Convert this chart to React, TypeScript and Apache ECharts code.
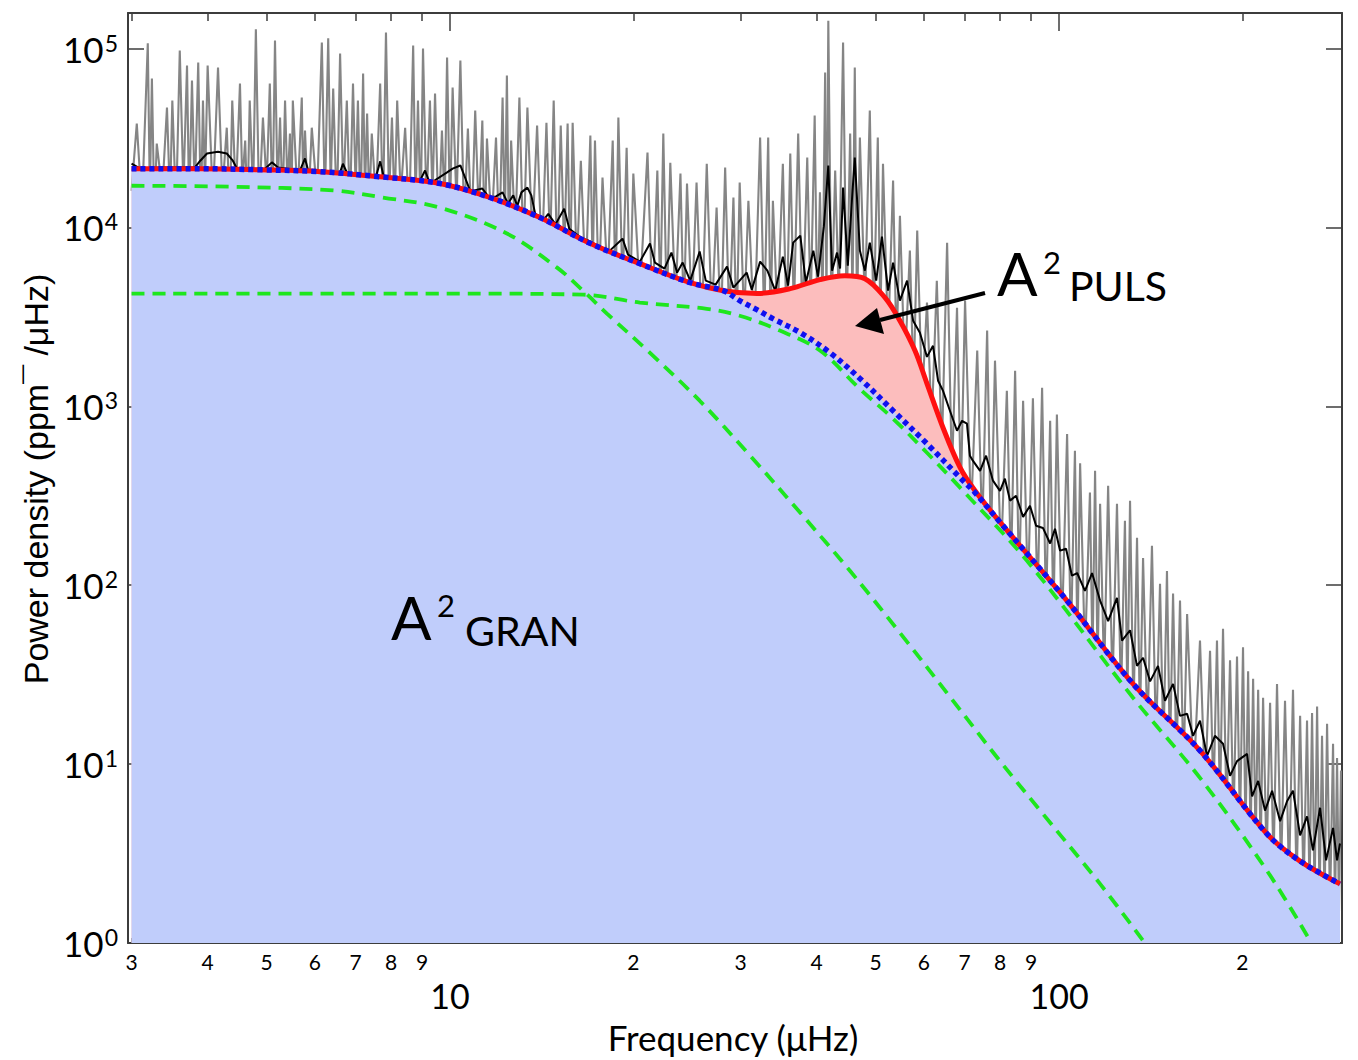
import React, { useEffect, useRef } from "react";
import * as echarts from "echarts";

// ---- axis ranges (real units) ----
const FREQ_MIN = 2.96;
const FREQ_MAX = 291.5;
const POW_MAX = 158000;

// ---- tick labels ----
const minorTickFreqs = [3, 4, 5, 6, 7, 8, 9, 20, 30, 40, 50, 60, 70, 80, 90, 200];
const majorTickFreqs = [10, 100];
const powerTicks = [1, 10, 100, 1000, 10000, 100000];

// ---- total fit (red) ----
const fitFreq = [3.0, 3.89, 4.88, 6.12, 7.67, 9.63, 11.63, 14.05, 16.98, 20.5, 24.8, 28.1, 31.9, 36.2, 40.5, 44.5, 48.0, 51.8, 54.8, 58.0, 60.7, 64.5, 68.8, 72.8, 80.0, 103.1, 132.3, 170.4, 219.6, 248.8, 289.3];
const fitTotal = [21300, 21300, 21000, 20500, 19200, 17600, 14700, 11350, 8150, 6270, 4910, 4430, 4270, 4550, 5110, 5370, 5170, 4050, 3010, 2050, 1340, 759, 454, 337, 225, 81.8, 28.1, 11.9, 4.07, 2.87, 2.14];

// ---- background fit (blue dotted) ----
const bgFreq = [3.0, 3.89, 4.88, 6.12, 7.67, 9.63, 11.63, 14.05, 16.98, 20.5, 24.8, 28.1, 29.9, 31.9, 33.9, 37.6, 42.1, 47.1, 53.4, 60.7, 68.8, 72.8, 80.0, 103.1, 132.3, 170.4, 219.6, 248.8, 289.3];
const bgPower = [21300, 21300, 21000, 20500, 19200, 17600, 14700, 11350, 8150, 6270, 4910, 4430, 3900, 3470, 3090, 2580, 1990, 1430, 945, 618, 399, 329, 225, 81.8, 28.1, 11.9, 4.07, 2.87, 2.14];

// ---- granulation components (green dashed) ----
const gran1Freq = [3.0, 10, 16.54, 20.5, 26.4, 29.9, 34.8, 40.5, 47.1, 53.4, 60.7, 68.8, 88.6, 132.3, 170.4, 219.6, 258.4];
const gran1Power = [4270, 4270, 4210, 3800, 3510, 3210, 2650, 2050, 1250, 853, 550, 351, 137, 23.5, 8.37, 2.53, 1.03];
const gran2Freq = [3.0, 4.35, 6.43, 7.76, 9.63, 12.4, 14.99, 16.54, 18.1, 21.3, 25.7, 31.1, 37.6, 45.4, 54.8, 66.2, 80.0, 94.1, 116.8, 137.4];
const gran2Power = [17100, 16900, 16100, 14700, 12900, 9250, 5960, 4430, 3300, 1990, 1075, 530, 254, 120, 54.2, 23.8, 10.4, 5.27, 2.14, 1.03];

// ---- smoothed spectrum (black) [freq, power] ----
const smoothSpec = [
  [3.0, 22700], [3.1, 21300], [3.34, 21600], [3.81, 21600], [3.89, 23600], [3.99, 25900], [4.16, 26500], [4.3, 25900], [4.4, 23600], [4.47, 21300],
  [4.97, 21300], [5.1, 23100], [5.22, 21600], [5.67, 20800], [5.78, 24300], [5.85, 20800], [6.6, 20300], [6.67, 22700], [6.77, 20300], [7.56, 19200],
  [7.68, 23400], [7.79, 19000], [8.93, 18300], [9.1, 20800], [9.27, 17600], [9.89, 20300], [10.1, 21300], [10.4, 22200], [10.8, 15900], [11.3, 16500],
  [11.6, 14700], [11.9, 14900], [12.2, 15700], [12.45, 13600], [12.7, 15100], [12.9, 13200], [13.1, 15700], [13.4, 16700], [13.6, 15100], [13.8, 11900],
  [14.3, 11200], [14.5, 11900], [14.9, 10400], [15.4, 12700], [15.7, 9840], [16.4, 8770], [17.0, 8340], [17.6, 7810], [18.3, 7420], [19.2, 8650],
  [19.6, 7050], [20.5, 6440], [21.3, 8120], [21.7, 6360], [22.5, 5890], [23.1, 7230], [23.6, 5590], [24.1, 6360], [24.8, 5040], [25.7, 7330],
  [26.3, 5040], [27.3, 4790], [28.5, 6040], [29.2, 4610], [30.7, 5590], [31.3, 4490], [32.3, 6440], [33.2, 5730], [34.2, 4430], [35.2, 6870],
  [35.9, 4730], [36.6, 8220], [37.6, 9000], [38.4, 4910], [39.5, 7420], [40.2, 5310], [41.1, 10100], [41.8, 22200], [42.4, 5730], [43.2, 7230],
  [43.7, 5890], [44.2, 16700], [45.0, 6110], [45.7, 14100], [46.2, 24600], [47.1, 7420], [48.0, 5730], [48.9, 8220], [50.1, 5040], [51.2, 8890],
  [52.4, 4430], [53.4, 6360], [54.8, 3900], [56.3, 5040], [57.6, 3010], [59.1, 2580], [60.7, 1890], [62.1, 2180], [63.3, 1390], [64.5, 1220],
  [66.2, 945], [68.0, 730], [69.3, 830], [70.6, 800], [71.4, 530], [72.2, 497], [74.2, 436], [75.9, 530], [77.9, 384], [80.0, 337],
  [81.5, 394], [83.1, 297], [85.0, 316], [87.3, 241], [89.6, 278], [91.7, 215], [94.1, 209], [96.7, 171], [98.5, 207], [100.4, 156],
  [102.7, 160], [105.0, 113], [107.1, 117], [110.3, 93], [113.3, 117], [116.8, 82], [120.4, 63], [124.5, 85], [126.9, 49], [130.8, 56],
  [134.3, 35.4], [137.4, 39.3], [141.1, 29], [145.4, 35.4], [149.3, 22.6], [153.9, 28.1], [158.0, 18.6], [162.3, 19.1], [166.0, 14.4], [170.4, 17.5],
  [175.0, 11.1], [180.3, 14.4], [185.9, 13.0], [190.9, 8.6], [196.0, 10.4], [203.6, 11.4], [207.5, 6.6], [212.3, 8.05], [217.9, 5.5], [223.8, 7.1],
  [230.7, 4.8], [236.8, 6.2], [242.2, 7.1], [248.8, 4.0], [255.4, 5.1], [261.2, 3.3], [268.3, 5.7], [274.5, 2.9], [281.8, 4.4], [286.1, 2.9], [289.3, 3.6]
];

// ---- raw spectrum (grey) [freq, power] ----
const rawSpec = [
  [3.0, 16000], [3.06, 38100], [3.12, 13000], [3.19, 107000], [3.215, 15000], [3.24, 67900], [3.27, 12000], [3.30, 29400], [3.37, 16000], [3.43, 46800],
  [3.47, 14000], [3.50, 51200], [3.55, 12500], [3.60, 97500], [3.65, 16500], [3.70, 80400], [3.73, 13000], [3.77, 66200], [3.81, 15000], [3.86, 83500],
  [3.90, 12000], [3.93, 51200], [3.96, 17000], [4.00, 80400], [4.08, 14000], [4.16, 78300], [4.23, 16000], [4.30, 36100], [4.35, 12000], [4.39, 51200],
  [4.45, 15000], [4.52, 63700], [4.56, 17500], [4.61, 30600], [4.65, 12000], [4.69, 51200], [4.75, 15000], [4.80, 128000], [4.86, 13000], [4.93, 41100],
  [5.00, 17000], [5.06, 63700], [5.11, 12000], [5.16, 111000], [5.21, 15500], [5.26, 41100], [5.31, 13000], [5.36, 51200], [5.41, 16500], [5.46, 33500],
  [5.49, 12000], [5.52, 51200], [5.62, 14500], [5.71, 53200], [5.74, 17500], [5.78, 34800], [5.85, 12500], [5.93, 36100], [6.05, 15000], [6.16, 108000],
  [6.23, 13500], [6.31, 114000], [6.37, 16500], [6.43, 59700], [6.52, 12000], [6.60, 93800], [6.68, 15500], [6.77, 51200], [6.85, 12500], [6.93, 63700],
  [7.00, 16500], [7.06, 51200], [7.13, 11500], [7.20, 72400], [7.25, 15500], [7.31, 43300], [7.37, 13000], [7.44, 33500], [7.56, 14000], [7.68, 63700],
  [7.76, 11500], [7.85, 123000], [7.94, 14500], [8.03, 41100], [8.11, 12500], [8.19, 51200], [8.30, 15000], [8.44, 36100], [8.57, 11000], [8.70, 104000],
  [8.78, 14000], [8.86, 51200], [8.95, 11500], [9.03, 100000], [9.15, 13000], [9.27, 51200], [9.36, 14500], [9.45, 56000], [9.58, 10500], [9.70, 34800],
  [9.80, 13000], [9.89, 89100], [10.0, 12000], [10.1, 60500], [10.25, 13500], [10.4, 85700], [10.55, 10500], [10.7, 35700], [10.85, 9500], [11.0, 45000],
  [11.15, 11500], [11.3, 39600], [11.4, 8500], [11.5, 31400], [11.7, 10000], [11.9, 31800], [12.05, 8000], [12.2, 53200], [12.3, 9500], [12.4, 70600],
  [12.5, 7500], [12.6, 30600], [12.8, 9000], [13.0, 53200], [13.2, 7000], [13.4, 46800], [13.65, 8500], [13.9, 37100], [14.15, 6500], [14.4, 38500],
  [14.6, 7500], [14.8, 51200], [15.0, 5800], [15.2, 37100], [15.4, 7000], [15.6, 38100], [15.75, 5200], [15.9, 38500], [16.15, 6000], [16.4, 23600],
  [16.7, 4800], [17.0, 32600], [17.15, 5600], [17.3, 30600], [17.55, 4300], [17.8, 19000], [18.15, 5000], [18.5, 30600], [18.7, 4000], [18.9, 41100],
  [19.2, 4600], [19.5, 27900], [19.75, 3700], [20.0, 20000], [20.5, 4200], [21.1, 26200], [21.5, 3500], [21.9, 20800], [22.15, 4000], [22.4, 33500],
  [22.7, 3300], [23.0, 23000], [23.45, 3700], [23.9, 20000], [24.2, 3000], [24.5, 17600], [24.95, 3300], [25.4, 17800], [25.9, 2800], [26.4, 22700],
  [26.9, 3100], [27.4, 12900], [27.85, 2600], [28.3, 21600], [28.75, 2900], [29.2, 14700], [29.55, 2500], [29.9, 17800], [30.4, 3000], [30.9, 14100],
  [31.6, 2500], [32.3, 31800], [32.8, 2900], [33.3, 31800], [33.6, 2600], [33.9, 14100], [34.5, 3100], [35.2, 22700], [35.7, 2700], [36.2, 25900],
  [36.7, 3300], [37.3, 33500], [37.9, 2900], [38.6, 24600], [39.1, 3500], [39.7, 42200], [40.1, 3000], [40.5, 15700], [40.9, 3800], [41.3, 73500],
  [41.5, 3500], [41.8, 143000], [42.3, 3200], [42.9, 20800], [43.5, 3900], [44.2, 108000], [44.8, 3300], [45.4, 33500], [45.8, 3800], [46.2, 78300],
  [46.6, 3100], [47.1, 31800], [48.0, 3600], [48.9, 45000], [49.6, 2800], [50.4, 31800], [50.9, 2900], [51.4, 22700], [52.4, 2300], [53.4, 18300],
  [54.1, 2000], [54.8, 11600], [55.8, 1600], [56.9, 7420], [57.7, 1300], [58.5, 9600], [59.6, 1100], [60.7, 3800], [61.8, 800], [63.0, 5040],
  [64.2, 560], [65.5, 8200], [66.7, 420], [68.0, 3560], [69.0, 330], [70.1, 3900], [71.7, 250], [73.4, 2050], [74.8, 200], [76.2, 2650],
  [77.3, 170], [78.5, 1800], [80.3, 140], [82.1, 1220], [83.4, 120], [84.7, 1580], [86.0, 100], [87.3, 1075], [88.9, 90], [90.6, 1110],
  [92.2, 80], [93.8, 1270], [95.2, 70], [96.7, 830], [97.9, 62], [99.2, 900], [101.1, 55], [103.1, 700], [104.6, 48], [106.2, 565],
  [107.2, 45], [108.3, 480], [110.3, 40], [112.4, 330], [113.5, 38], [114.6, 436], [115.7, 34], [116.8, 285], [118.6, 31], [120.4, 360],
  [122.4, 27], [124.5, 285], [126.4, 23], [128.3, 229], [129.5, 22], [130.8, 297], [132.5, 19], [134.3, 184], [135.8, 17], [137.4, 142],
  [139.7, 15], [142.1, 166], [144.3, 13], [146.5, 102], [148.4, 12], [150.4, 120], [152.1, 11], [153.9, 90], [155.9, 10], [158.0, 82],
  [160.1, 9], [162.3, 69], [166.3, 8], [170.4, 49], [173.7, 7], [177.0, 43], [179.3, 6.3], [181.7, 49], [183.8, 5.8], [185.9, 57],
  [188.4, 5.2], [190.9, 38], [193.4, 4.8], [196.0, 40], [198.2, 4.4], [200.5, 45], [202.4, 4.0], [204.4, 33], [206.3, 3.7], [208.3, 30],
  [210.3, 3.4], [212.3, 26], [214.3, 3.1], [216.3, 23.5], [219.2, 2.9], [222.1, 22], [225.0, 2.7], [228.0, 28], [231.5, 2.5], [235.0, 22.6],
  [238.6, 2.3], [242.2, 26], [245.5, 2.1], [248.8, 18.6], [252.1, 2.0], [255.4, 17.5], [257.8, 1.9], [260.3, 19.3], [262.8, 1.8], [265.3, 21],
  [267.8, 1.7], [270.3, 14.4], [272.9, 1.65], [275.5, 16.8], [278.6, 1.6], [281.8, 13], [283.9, 1.55], [286.1, 10.8], [288.2, 1.5], [290.4, 9.2]
];

const L = Math.log10;
const pairs = (fs: number[], ps: number[]) => fs.map((f, i) => [L(f), L(ps[i])]);
const logPairs = (arr: number[][]) => arr.map(([f, p]) => [L(f), L(p)]);

const NUM_FONT = "Lato";
const AXIS_COLOR = "#3c3c3c";
const GREEN = "#1ee61e";

export default function App() {
  const ref = useRef<HTMLDivElement>(null);

  useEffect(() => {
    if (!ref.current) return;
    const chart = echarts.init(ref.current, null, { renderer: "svg" });
    const xMin = L(FREQ_MIN);
    const xMax = L(FREQ_MAX);
    const yMax = L(POW_MAX);
    const allXTicks = [...minorTickFreqs, ...majorTickFreqs].sort((a, b) => a - b).map(L);

    const baseX = {
      type: "value",
      min: xMin,
      max: xMax,
      splitLine: { show: false },
    };

    const txt = (text: string, x: number, y: number, fontSize: number) => ({
      type: "text",
      z: 100,
      x,
      y,
      style: { text, fontSize, fontFamily: NUM_FONT, fill: "#000", align: "left", verticalAlign: "middle" },
    });

    const option: any = {
      animation: false,
      backgroundColor: "#ffffff",
      grid: { left: 128, right: 16, top: 13, bottom: 117 },
      xAxis: [
        {
          ...baseX,
          position: "bottom",
          axisLine: { show: true, onZero: false, lineStyle: { color: AXIS_COLOR, width: 2 } },
          axisTick: { show: true, inside: true, length: 5, customValues: allXTicks, lineStyle: { color: AXIS_COLOR, width: 1.5 } },
          axisLabel: {
            show: true,
            customValues: minorTickFreqs.map(L),
            formatter: (v: number) => String(Math.round(Math.pow(10, v))).charAt(0),
            fontFamily: NUM_FONT,
            fontSize: 21,
            color: "#000",
            margin: 8,
          },
        },
        {
          ...baseX,
          position: "bottom",
          axisLine: { show: false, onZero: false },
          axisTick: { show: false },
          axisLabel: {
            show: true,
            customValues: majorTickFreqs.map(L),
            formatter: (v: number) => String(Math.round(Math.pow(10, v))),
            fontFamily: NUM_FONT,
            fontSize: 34,
            color: "#000",
            margin: 35,
          },
        },
        {
          ...baseX,
          position: "top",
          axisLine: { show: true, onZero: false, lineStyle: { color: AXIS_COLOR, width: 2 } },
          axisTick: { show: true, inside: true, length: 8, customValues: minorTickFreqs.map(L), lineStyle: { color: AXIS_COLOR, width: 1.5 } },
          axisLabel: { show: false },
        },
        {
          ...baseX,
          position: "top",
          axisLine: { show: false, onZero: false },
          axisTick: { show: true, inside: true, length: 18, customValues: majorTickFreqs.map(L), lineStyle: { color: AXIS_COLOR, width: 1.5 } },
          axisLabel: { show: false },
        },
      ],
      yAxis: [
        {
          type: "value",
          position: "left",
          min: 0,
          max: yMax,
          splitLine: { show: false },
          axisLine: { show: true, onZero: false, lineStyle: { color: AXIS_COLOR, width: 2 } },
          axisTick: { show: true, inside: true, length: 16, customValues: powerTicks.map(L), lineStyle: { color: AXIS_COLOR, width: 1.5 } },
          axisLabel: {
            show: true,
            customValues: powerTicks.map(L),
            formatter: (v: number) => `{b|10}{s|${Math.round(v)}}`,
            margin: 10,
            rich: {
              b: { fontFamily: NUM_FONT, fontSize: 35, color: "#000" },
              s: { fontFamily: NUM_FONT, fontSize: 23, color: "#000", verticalAlign: "top", padding: [0, 0, 0, 1] },
            },
          },
        },
        {
          type: "value",
          position: "right",
          min: 0,
          max: yMax,
          splitLine: { show: false },
          axisLine: { show: true, onZero: false, lineStyle: { color: AXIS_COLOR, width: 2 } },
          axisTick: { show: true, inside: true, length: 16, customValues: powerTicks.map(L), lineStyle: { color: AXIS_COLOR, width: 1.5 } },
          axisLabel: { show: false },
        },
      ],
      series: [
        {
          name: "raw",
          type: "line",
          z: 1,
          data: logPairs(rawSpec),
          showSymbol: false,
          symbol: "none",
          silent: true,
          lineStyle: { color: "#858585", width: 2.1 },
        },
        {
          name: "smoothed",
          type: "line",
          z: 1,
          data: logPairs(smoothSpec),
          showSymbol: false,
          symbol: "none",
          silent: true,
          lineStyle: { color: "#000000", width: 2 },
        },
        {
          name: "puls-area",
          type: "line",
          z: 2,
          data: pairs(fitFreq, fitTotal),
          smooth: 0.35,
          showSymbol: false,
          symbol: "none",
          silent: true,
          lineStyle: { width: 0, opacity: 0 },
          areaStyle: { color: "#fcbdbd", opacity: 1, origin: "start" },
        },
        {
          name: "gran-area",
          type: "line",
          z: 3,
          data: pairs(bgFreq, bgPower),
          smooth: 0.35,
          showSymbol: false,
          symbol: "none",
          silent: true,
          lineStyle: { width: 0, opacity: 0 },
          areaStyle: { color: "#c0cdfb", opacity: 1, origin: "start" },
        },
        {
          name: "gran2",
          type: "line",
          z: 4,
          data: pairs(gran2Freq, gran2Power),
          smooth: 0.35,
          showSymbol: false,
          symbol: "none",
          silent: true,
          lineStyle: { color: GREEN, width: 3.8, type: [13, 8] },
        },
        {
          name: "gran1",
          type: "line",
          z: 4,
          data: pairs(gran1Freq, gran1Power),
          smooth: 0.35,
          showSymbol: false,
          symbol: "none",
          silent: true,
          lineStyle: { color: GREEN, width: 3.8, type: [13, 8] },
        },
        {
          name: "total",
          type: "line",
          z: 5,
          data: pairs(fitFreq, fitTotal),
          smooth: 0.35,
          showSymbol: false,
          symbol: "none",
          silent: true,
          lineStyle: { color: "#ff1010", width: 5 },
        },
        {
          name: "background",
          type: "line",
          z: 6,
          data: pairs(bgFreq, bgPower),
          smooth: 0.35,
          showSymbol: false,
          symbol: "none",
          silent: true,
          lineStyle: { color: "#1010f0", width: 5.5, type: [5, 4], cap: "butt" },
        },
      ],
      graphic: [
        txt("A", 391, 617, 60),
        txt("2", 437, 605, 31),
        txt("GRAN", 465, 630, 41),
        txt("A", 997, 273, 60),
        txt("2", 1043, 262, 31),
        txt("PULS", 1069, 285, 41),
        { type: "line", z: 100, shape: { x1: 985, y1: 293, x2: 880, y2: 320 }, style: { stroke: "#000", lineWidth: 4 } },
        { type: "polygon", z: 100, shape: { points: [[855, 326], [884, 334], [877, 308]] }, style: { fill: "#000" } },
        { type: "text", z: 100, x: 733, y: 1037, style: { text: "Frequency (μHz)", fontSize: 35, fontFamily: NUM_FONT, fill: "#000", align: "center", verticalAlign: "middle" } },
        { type: "text", z: 100, x: 36, y: 479, rotation: Math.PI / 2, style: { text: "Power density (ppm¯ /μHz)", fontSize: 34, fontFamily: "Liberation Sans", fill: "#000", align: "center", verticalAlign: "middle" } },
      ],
    };

    chart.setOption(option);
    return () => {
      chart.dispose();
    };
  }, []);

  return (
    <div
      ref={ref}
      style={{ position: "absolute", left: 0, top: 0, width: 1358, height: 1060, background: "#fff" }}
    />
  );
}
